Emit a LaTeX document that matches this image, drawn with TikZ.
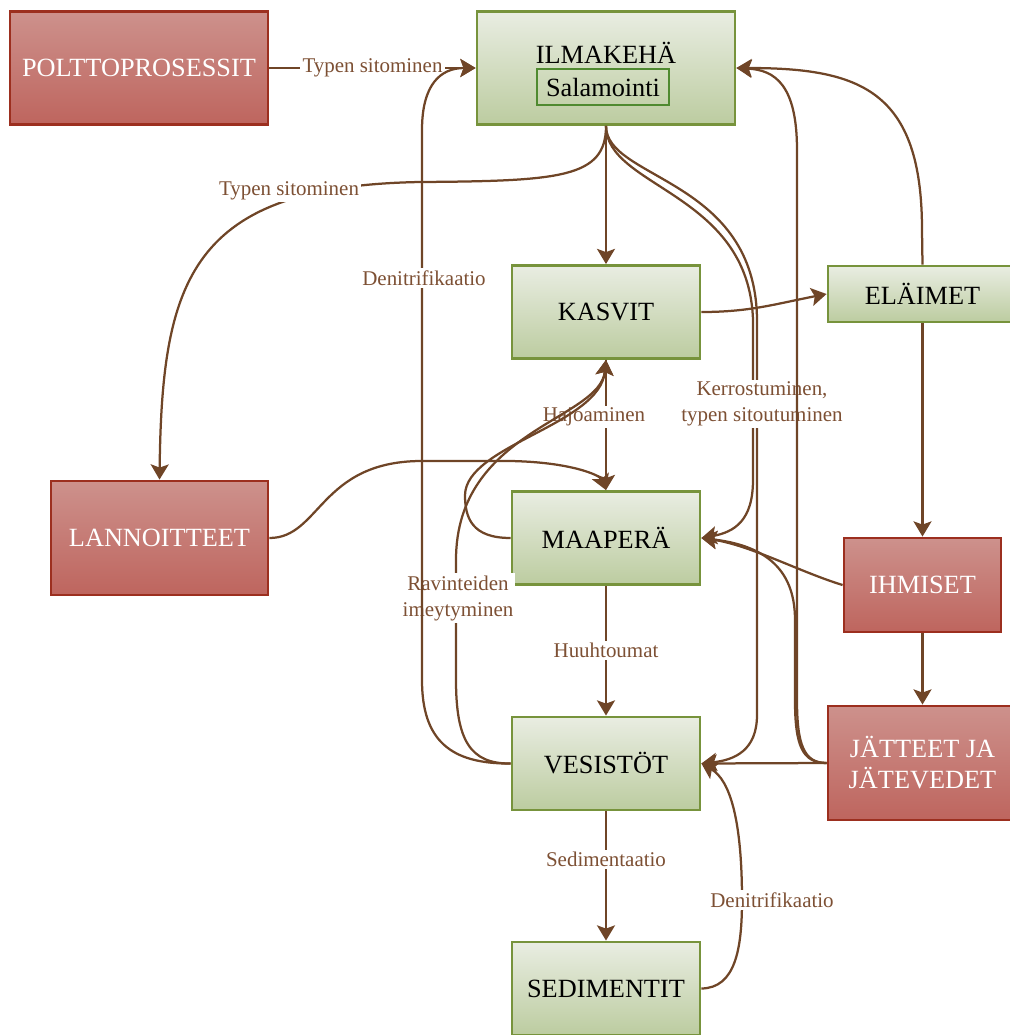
\documentclass[tikz,border=0pt]{standalone}
\usepackage{fontspec}
\setmainfont{Liberation Serif}
\usetikzlibrary{arrows.meta,positioning}
\usepackage{xcolor}
\definecolor{leafgreen}{RGB}{119,147,60}
\definecolor{leaftop}{RGB}{233,237,226}
\definecolor{leafbot}{RGB}{188,204,160}
\definecolor{rustred}{RGB}{156,47,31}
\definecolor{rusttop}{RGB}{205,145,140}
\definecolor{rustbot}{RGB}{190,101,94}
\definecolor{soilbrown}{RGB}{111,69,39}
\definecolor{labelbrown}{RGB}{125,80,52}
\definecolor{sparkgreen}{RGB}{79,138,48}

\begin{document}
\begin{tikzpicture}[x=0.025cm,y=-0.025cm,
  % Green gradient boxes (natural compartments)
  nat/.style={draw=leafgreen,line width=2pt,top color=leaftop,bottom color=leafbot,
              rectangle,align=center,text=black,font=\fontsize{18.7}{22}\selectfont},
  % Red gradient boxes (human sources)
  hum/.style={draw=rustred,line width=2pt,top color=rusttop,bottom color=rustbot,
              rectangle,align=center,text=white,font=\fontsize{18.7}{22}\selectfont},
  bigbox/.style={minimum width=6.45cm,minimum height=2.825cm},
  midbox/.style={minimum width=4.7cm,minimum height=2.325cm},
  boxtext/.style={font=\fontsize{18.7}{22}\selectfont},
  % Inner framed box for lightning
  sal/.style={draw=sparkgreen,line width=1.5pt,minimum width=3.3cm,minimum height=0.9cm,
              font=\fontsize{18.7}{22}\selectfont},
  arr/.style={-{Stealth[length=0.38cm,width=0.45cm,inset=0.08cm]},draw=soilbrown,line width=1.6pt},
  lbl/.style={fill=white,text=labelbrown,inner sep=1.5pt,align=center,
              font=\fontsize{14.9}{18.5}\selectfont}
]
  \useasboundingbox (0,0) rectangle (1009,1035);

  % ---- Nodes (1 unit = 1 px of the layout) ----
  \node[hum,bigbox] (polt)    at (139,68)    {POLTTOPROSESSIT};
  \node[nat,bigbox] (ilma)    at (606,68)    {};
  \node[boxtext,anchor=base] (ilmat) at (606,63) {ILMAKEHÄ};
  \node[sal]        (sal)     at (603,87)    {Salamointi};
  \node[nat,midbox] (kasvit)  at (606,312)   {KASVIT};
  \node[nat,minimum width=4.725cm,minimum height=1.4cm] (elaimet) at (922.5,294) {ELÄIMET};
  \node[nat,midbox] (maap)    at (606,538)   {MAAPERÄ};
  \node[hum,minimum width=5.425cm,minimum height=2.85cm] (lann) at (159.5,538) {LANNOITTEET};
  \node[hum,minimum width=3.925cm,minimum height=2.35cm] (ihmiset) at (922.5,585) {IHMISET};
  \node[nat,midbox] (vesi)    at (606,763.5) {VESISTÖT};
  \node[hum,minimum width=4.725cm,minimum height=2.85cm] (jatteet) at (922.5,763) {JÄTTEET JA\\JÄTEVEDET};
  \node[nat,midbox] (sed)     at (606,988.5) {SEDIMENTIT};

  % ---- Into and out of the atmosphere ----
  \draw[arr] (polt) -- node[lbl]{Typen sitominen} (ilma);
  \draw[arr] (ilma) -- (kasvit);
  \draw[arr] (ilma.south) .. controls (606,178) and (560,181) .. (420,182)
             .. controls (190,186) and (162,280) .. (lann.north)
             node[lbl] at (289,191) {Typen sitominen};
  \draw[arr] (ilma.south) .. controls (606,188) and (749,192) .. (753,320)
             -- (753,480) .. controls (753,520) and (735,532) .. (maap.east);
  \draw[arr] (ilma.south) .. controls (606,180) and (756,178) .. (757,320)
             -- (757,715) .. controls (757,750) and (735,760) .. (vesi.east)
             node[lbl] at (762,404) {Kerrostuminen,\\typen sitoutuminen};

  % ---- Animals and people ----
  \draw[arr] (kasvit.east) .. controls (750,312) and (775,304) .. (elaimet.west);
  \draw[arr] (elaimet.south) -- (ihmiset.north);
  \draw[arr] (ihmiset.south) -- (jatteet.north);
  \draw[arr] (elaimet.north) -- (922,230) .. controls (922,90) and (860,68) .. (ilma.east);
  \draw[arr] (ihmiset.west) .. controls (800,572) and (750,545) .. (maap.east);
  \draw[arr] (jatteet.west) -- (vesi.east);
  \draw[arr] (jatteet.west) .. controls (802,763) and (795,745) .. (795,700)
             -- (795,620) .. controls (795,565) and (760,545) .. (maap.east);
  \draw[arr] (jatteet.west) .. controls (804,763) and (797,745) .. (797,700)
             -- (797,150) .. controls (797,85) and (775,70) .. (ilma.east);

  % ---- Soil, plants and water ----
  \draw[arr] (kasvit.south) -- (maap.north) node[lbl] at (594,417) {Hajoaminen};
  \draw[arr] (lann.east) .. controls (320,538) and (320,462) .. (420,461)
             -- (510,461) .. controls (570,462) and (600,475) .. (maap.north);
  \draw[arr] (maap.south) -- node[lbl]{Huuhtoumat} (vesi.north);
  \draw[arr] (vesi.south) -- node[lbl,pos=0.37]{Sedimentaatio} (sed.north);
  \draw[arr] (vesi.west) .. controls (470,764) and (456,740) .. (456,680)
             -- (456,560) .. controls (456,430) and (600,420) .. (kasvit.south)
             node[lbl] at (458,598) {Ravinteiden\\imeytyminen};
  \draw[arr] (maap.west) .. controls (472,538) and (465,518) .. (465,495)
             .. controls (466,445) and (600,425) .. (kasvit.south);
  \draw[arr] (vesi.west) .. controls (450,764) and (422,740) .. (422,680)
             -- (422,130) .. controls (422,85) and (440,68) .. (ilma.west)
             node[lbl] at (424,278) {Denitrifikaatio};
  \draw[arr] (sed.east) .. controls (735,988) and (742,950) .. (742,900)
             .. controls (742,820) and (730,780) .. (vesi.east)
             node[lbl] at (772,900) {Denitrifikaatio};
\end{tikzpicture}
\end{document}
